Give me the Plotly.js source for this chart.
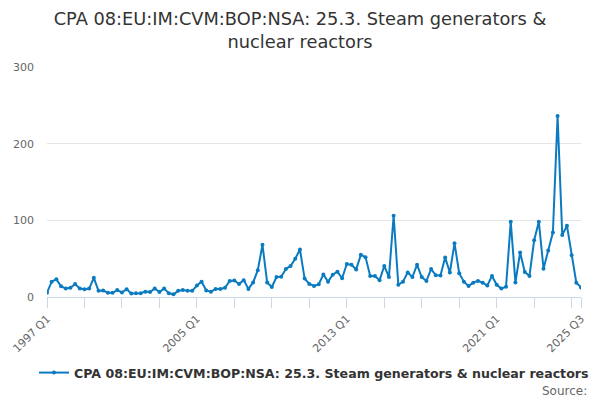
<!DOCTYPE html>
<html>
<head>
<meta charset="utf-8">
<script src="https://cdn.plot.ly/plotly-3.0.1.min.js"></script>
<style>html,body{margin:0;padding:0;background:#fff;}#chart{width:600px;height:400px;}</style>
</head>
<body>
<div id="chart"></div>
<script>
// Quarters 1997 Q1 .. 2025 Q3
const quarters = [];
for (let y = 1997; y <= 2025; y++) {
  for (let q = 1; q <= 4; q++) {
    if (y === 2025 && q > 3) break;
    quarters.push(y + ' Q' + q);
  }
}
const values = [
  5.6, 20, 23, 14, 11, 12, 17, 11, 10, 11,
  25, 8, 8.5, 5.5, 5.5, 9, 6, 10, 4.5, 5,
  5, 7, 6.5, 11, 6.5, 11, 5, 3.5, 8, 9,
  8, 8, 15, 20, 8.5, 7, 10.5, 10.5, 12, 21,
  21.5, 17, 22, 10.5, 19, 35, 68, 19, 13, 26,
  26.5, 36.5, 40.5, 50, 62, 24, 17, 14.5, 16.5, 29.5,
  20, 29, 33, 24.5, 43, 42, 36, 55, 52, 27.5,
  27.5, 22, 40.5, 26, 106, 16, 20, 32, 26, 42,
  26, 21, 36.5, 28.5, 28, 51.5, 32, 70, 31, 20,
  14.5, 18.7, 21, 18.7, 15, 27.5, 16, 11, 13.5, 98,
  19, 58, 32.7, 27.5, 74, 98, 37, 60.6, 84, 236,
  81, 93, 54.5, 18.7, 12.5
];
const seriesName = 'CPA 08:EU:IM:CVM:BOP:NSA: 25.3. Steam generators & nuclear reactors';
const titleText = 'CPA 08:EU:IM:CVM:BOP:NSA: 25.3. Steam generators &<br>nuclear reactors';
const labelledTicks = ['1997 Q1', '2005 Q1', '2013 Q1', '2021 Q1', '2025 Q3'];

const tickVals = quarters.filter((q, i) => i % 8 === 0 || i === quarters.length - 1);
const tickText = tickVals.map(q => labelledTicks.includes(q) ? q : '');

const font = 'DejaVu Sans, sans-serif';

Plotly.newPlot('chart', [{
  x: quarters,
  y: values,
  type: 'scatter',
  mode: 'lines+markers',
  name: seriesName,
  line: {color: '#0b7bc1', width: 2},
  marker: {color: '#0b7bc1', size: 4}
}], {
  width: 600, height: 400,
  margin: {l: 47, r: 19, t: 67, b: 103},
  paper_bgcolor: '#fff', plot_bgcolor: '#fff',
  font: {family: font, color: '#333'},
  title: {text: titleText, font: {family: font, size: 17.8, color: '#333'}, x: 0.5, xanchor: 'center', yref: 'container', y: 0.9375, yanchor: 'top'},
  xaxis: {
    type: 'category',
    range: [0, quarters.length - 1],
    tickmode: 'array', tickvals: tickVals, ticktext: tickText,
    tickangle: -45,
    ticks: 'outside', ticklen: 10, tickcolor: '#ccd6eb', tickwidth: 1,
    showline: true, linecolor: '#ccd6eb', linewidth: 1,
    showgrid: false, zeroline: false,
    tickfont: {family: font, size: 11, color: '#666'}
  },
  yaxis: {
    range: [0, 300], tickvals: [0, 100, 200, 300],
    showgrid: true, gridcolor: '#e6e6e6', zeroline: false,
    showline: false, ticks: '', ticklabelstandoff: 12,
    tickfont: {family: font, size: 11, color: '#666'}
  },
  showlegend: true,
  legend: {orientation: 'h', x: 0.5, xanchor: 'center', y: -0.33, yanchor: 'middle',
    font: {family: font, size: 12.6, color: '#333', weight: 'bold'}},
  annotations: [{
    text: 'Source:', xref: 'paper', yref: 'paper',
    x: 1.015, y: -0.41, xanchor: 'right', yanchor: 'middle', showarrow: false,
    font: {family: font, size: 12, color: '#666'}
  }]
}, {displayModeBar: false, staticPlot: true});
</script>
</body>
</html>
